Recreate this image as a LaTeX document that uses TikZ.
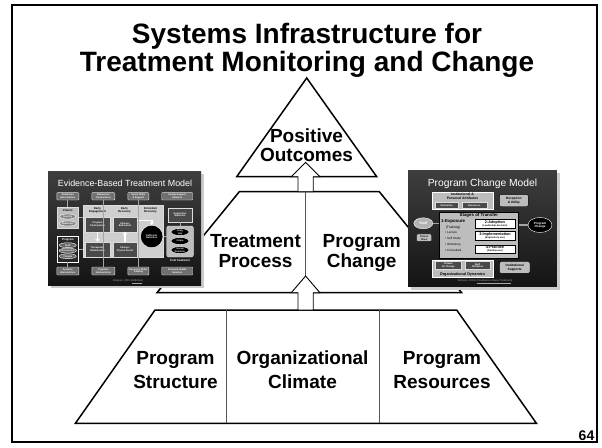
\documentclass[tikz,border=0pt]{standalone}
\usepackage{fontspec}
\setmainfont{Liberation Sans}
\usepackage{xcolor}
\usetikzlibrary{arrows.meta,positioning,calc,shapes.geometric}
\definecolor{divgray}{HTML}{555555}
\definecolor{thumbtop}{HTML}{3E3E3E}
\definecolor{thumbbottom}{HTML}{141414}
\definecolor{tinyfill}{HTML}{707070}
\definecolor{tinyedge}{HTML}{DDDDDD}
\definecolor{darkfill}{HTML}{4A4A4A}
\definecolor{panelfill}{HTML}{BDBDBD}
\definecolor{panellight}{HTML}{CFCFCF}
\tikzset{
  slideframe/.style={draw=black, line width=2pt},
  titletext/.style={font=\bfseries\fontsize{28}{28}\selectfont, align=center, inner sep=0pt},
  layer/.style={draw=black, line width=1.5pt, fill=white, line join=miter},
  divider/.style={draw=divgray, line width=0.9pt},
  liftarrow/.style={draw=black, line width=0.9pt, fill=white, line join=miter},
  layerlabel/.style={font=\bfseries\fontsize{19}{#1}\selectfont, align=center, inner sep=0pt},
  layerlabel/.default=20,
  pagenum/.style={font=\bfseries\fontsize{14}{14}\selectfont, inner sep=0pt},
  thumbshadow/.style={fill=gray!40, draw=none},
  thumb/.style={draw=none, top color=thumbtop, bottom color=thumbbottom, inner sep=0pt},
  thumbtitle/.style={text=white, inner sep=0pt},
  tinybox/.style={draw=tinyedge, fill=tinyfill, text=white, rounded corners=0.8pt, line width=0.4pt,
    font=\bfseries\fontsize{2.4}{2.7}\selectfont, align=center, inner sep=0pt},
  darkbox/.style={tinybox, fill=darkfill, rounded corners=0pt},
  lightbox/.style={tinybox, fill=panelfill, text=black, draw=black},
  panel/.style={draw=tinyedge, fill=panelfill, line width=0.4pt, inner sep=0pt},
  tinyoval/.style={ellipse, draw=white, fill=black, text=white, line width=0.4pt,
    font=\bfseries\fontsize{2.4}{2.7}\selectfont, align=center, inner sep=0pt},
  tinytext/.style={font=\bfseries\fontsize{2.8}{3.1}\selectfont, align=center, inner sep=0pt},
  tinylink/.style={draw=gray!70, line width=0.8pt},
  tinyarrow/.style={draw=white, line width=1.6pt, -{Triangle[length=2.5pt,width=4.5pt]}}
}
\begin{document}
\begin{tikzpicture}[x=1pt,y=-1pt]
\useasboundingbox (0,0) rectangle (602,447);
\draw[slideframe] (12,5) rectangle (597,442);
\node[titletext] (title) at (307,50) {Systems Infrastructure for\\Treatment Monitoring and Change};

% pyramid of three layers
\coordinate (outtip) at (305.6,162.3);
\coordinate (midtop) at (305.6,191.7);
\coordinate (midtip) at (305.6,276);
\coordinate (lowtop) at (305.6,310);
\draw[layer] (306.7,78) -- (376.7,176.7) -- (236.7,176.7) -- cycle;
\draw[layer] (239.3,191.7) -- (379.3,191.7) -- (461.6,292.7) -- (157,292.7) -- cycle;
\draw[divider] (midtop) -- (midtip);
\draw[layer] (155,310) -- (456.7,310) -- (536.4,423.3) -- (75.4,423.3) -- cycle;
\foreach \x in {226.7,379.3}
  \draw[divider] (\x,310) -- (\x,423.3);
\foreach \b/\t/\h in {midtop/outtip/14.4,lowtop/midtip/16.7}
  \draw[liftarrow] ($(\b)+(-7.6,0)$) -- ($(\t)+(-7.6,\h)$) -- ($(\t)+(-14.3,\h)$) -- (\t)
    -- ($(\t)+(14.3,\h)$) -- ($(\t)+(7.6,\h)$) -- ($(\b)+(7.6,0)$) -- cycle;

% evidence-based treatment model inset
\fill[thumbshadow] (51,174) rectangle (204,288);
\node[thumb, minimum width=153, minimum height=114, anchor=north west] (ebtm) at (48,171) {};
\node[thumbtitle, font=\fontsize{8.9}{9}\selectfont] (ebtmtitle) at (125,183.5) {Evidence-Based Treatment Model};
\foreach \x/\w/\t [count=\i] in {67.8/22/Readiness\\Interventions,103.3/23/Behavioral\\Interventions,138.3/21/Social Skills\\\& Support,177.2/31/Family Support\\Services}
  \node[tinybox, minimum width=\w, minimum height=7.4] (top\i) at (\x,196.3) {\t};
\foreach \x/\w/\t [count=\i] in {67.8/22/Systems\\Interventions,103.3/23/Cognitive\\Interventions,138.3/21/Recovery Skills\\Training,177.2/31/Personal Health\\Services}
  \node[tinybox, minimum width=\w, minimum height=8] (bot\i) at (\x,271) {\t};
\node[panel, minimum width=21, minimum height=21.6] (patient) at (67.8,217.5) {};
\node[tinytext] (patientlbl) at (67.8,210.3) {Patient};
\node[tinyoval, fill=gray, minimum width=16, minimum height=5] (pat1) at (67.8,216.5) {Severity};
\node[tinyoval, fill=gray, minimum width=16, minimum height=5] (pat2) at (67.8,223.5) {Readiness};
\node[panel, draw=white, fill=black!85, minimum width=21, minimum height=25.7] (program) at (67.8,248.9) {};
\node[tinytext, text=white] (programlbl) at (67.8,239.8) {Program};
\foreach \y/\t [count=\i] in {245.2/Staff,250.6/Resources,256.2/Climate}
  \node[tinyoval, fill=gray!80!black, minimum width=17, minimum height=5] (prog\i) at (67.8,\y) {\t};
\node[panel, fill=panellight, minimum width=80, minimum height=52.3] (course) at (123.3,231.2) {};
\node[tinytext] (engage) at (97.5,210.5) {Early\\Engagement};
\node[tinytext] (recover) at (124.5,210.5) {Early\\Recovery};
\node[tinytext] (extended) at (150.5,210.5) {Extended\\Recovery};
\node[darkbox, minimum width=25, minimum height=14.4] (particip) at (97.5,224.5) {Program\\Participation};
\node[darkbox, minimum width=23.4, minimum height=14.4] (behav) at (125,224.5) {Change:\\Behavioral};
\node[darkbox, minimum width=25, minimum height=15] (therap) at (97.5,249.2) {Therapeutic\\Relationship};
\node[darkbox, minimum width=23.4, minimum height=15] (psycho) at (125,249.2) {Change:\\Psycho-Social};
\node[tinyoval, circle, minimum size=22.5] (retain) at (151.7,236.5) {Sufficient\\Retention};
\draw[tinyarrow] (particip) -- (therap);
\draw[tinyarrow] (psycho) -- (behav);
\draw[tinyarrow] ($(behav.east)+(0,-4)$) -| (retain.north);
\node[darkbox, minimum width=23.4, minimum height=14] (networks) at (180,214.7) {Supportive\\Networks};
\node[panel, rounded corners=2pt, minimum width=26.6, minimum height=31] (post) at (180,241.5) {};
\foreach \y/\t [count=\i] in {232/Drug\\Use,241/Crime,250/Social\\Function}
  \node[tinyoval, minimum width=18, minimum height=7] (out\i) at (180,\y) {\t};
\node[tinytext, text=white] (postlbl) at (180,261) {Post treatment};
\node[tinytext, text=gray!70, font=\fontsize{2.6}{3}\selectfont] (ebtmsrc) at (128,281.5) {Simpson, 2001 (\underline{Addiction})};
\foreach \a in {top2,top3,bot2,bot3}
  \draw[tinylink] (\a) -- (\a |- course.north);
\draw[tinylink] (top1) -- (patient);
\draw[tinylink] (bot1) -- (program);
\draw[tinylink] (course.west |- patient.east) -- (patient.east);
\draw[tinylink] (course.west |- program.east) -- (program.east);
\draw[tinylink] (retain.east -| course.east) -- (retain.east -| post.west);
\draw[tinylink] (networks) -- (post);

% program change model inset
\fill[thumbshadow] (411,173) rectangle (559.5,289.5);
\node[thumb, minimum width=148.7, minimum height=116.7, anchor=north west] (pcm) at (408,170) {};
\node[thumbtitle, font=\fontsize{10.3}{11}\selectfont] (pcmtitle) at (482.5,184) {Program Change Model};
\node[panel, draw=white, minimum width=61.6, minimum height=17.6] (attrib) at (462.5,200.5) {};
\node[tinytext, font=\bfseries\fontsize{3.4}{3.6}\selectfont] (attriblbl) at (462.5,196) {Institutional \&\\Personal Attributes};
\node[darkbox, minimum width=23.3, minimum height=6] (motiv) at (446.7,205.3) {Motivation};
\node[darkbox, minimum width=25, minimum height=6] (resrc) at (474.2,205.3) {Resources};
\node[lightbox, rounded corners=2pt, minimum width=29, minimum height=12.4, font=\bfseries\fontsize{3.2}{3.5}\selectfont] (recept) at (513.8,200.5) {Reception\\\& Utility};
\node[panel, draw=black, minimum width=79, minimum height=46.6] (stages) at (478.8,235) {};
\node[tinytext, font=\bfseries\fontsize{4.4}{5}\selectfont] (stageslbl) at (478.8,215.5) {Stages of Transfer};
\node[tinytext, font=\bfseries\fontsize{4.4}{5}\selectfont, anchor=west] (exposelbl) at (441,221.5) {1-Exposure};
\node[tinytext, font=\fontsize{3.4}{4}\selectfont] (training) at (453,227.3) {(Training)};
\foreach \y/\t [count=\i] in {232.7/Lecture,238.5/Self Study,244.5/Workshop,250.5/Consultant}
  \node[tinytext, font=\fontsize{3}{3.4}\selectfont, anchor=west] (bullet\i) at (445,\y) {\textbullet\ \t};
\foreach \y/\h/\t/\s [count=\i] in {223.8/9/2-Adoption/Leadership decision,235.8/8.3/3-Implementation/Exploratory use,249.2/8.3/4-Practice/Routine use}
  \node[lightbox, fill=white, rounded corners=0pt, minimum width=40, minimum height=\h] (stage\i) at (495,\y) {{\fontsize{3.8}{4}\selectfont\t}\\(\s)};
\node[tinyoval, fill=gray!60, minimum width=19, minimum height=11, font=\bfseries\fontsize{3.6}{4}\selectfont] (staff) at (423.3,223.3) {Staff};
\node[lightbox, rounded corners=1pt, minimum width=15, minimum height=7.7] (timeplace) at (424.2,237.8) {Time \&\\Place};
\node[tinyoval, minimum width=24, minimum height=15, font=\bfseries\fontsize{3}{3.3}\selectfont] (pchange) at (540,225) {Program\\Change};
\draw[tinylink, line width=1.5pt] (staff) -- (staff -| stages.west);
\draw[tinylink, line width=1.5pt] (stages.east |- pchange) -- (pchange);
\node[panel, draw=white, minimum width=61.6, minimum height=17.3] (orgdyn) at (462.5,268.7) {};
\node[darkbox, minimum width=26.7, minimum height=8.3] (climbox) at (448.3,265.5) {Climate\\for Change};
\node[darkbox, minimum width=25, minimum height=8.3] (staffattr) at (477.5,265.5) {Staff\\Attributes};
\node[tinytext, font=\bfseries\fontsize{3.8}{4}\selectfont] (orgdynlbl) at (462.5,274.3) {Organizational Dynamics};
\node[lightbox, rounded corners=2pt, minimum width=30.7, minimum height=11.6, font=\bfseries\fontsize{3.2}{3.5}\selectfont] (supports) at (514.7,267.5) {Institutional\\Supports};
\node[tinytext, text=gray!70, font=\fontsize{2.6}{3}\selectfont] (pcmsrc) at (485,281.7) {Simpson, 2002 (\underline{J Substance Abuse Treatment})};

% layer labels
\node[layerlabel=19] (outcomes) at (306.5,145.5) {Positive\\Outcomes};
\node[layerlabel] (process) at (255.5,251.5) {Treatment\\Process};
\node[layerlabel] (change) at (361.7,253.3) {Program\\Change};
\node[layerlabel=24] (structure) at (175.5,370.2) {Program\\Structure};
\node[layerlabel=24] (climate) at (302.5,370.2) {Organizational\\Climate};
\node[layerlabel=24] (resources) at (442,370.2) {Program\\Resources};
\node[pagenum, anchor=south east] (page) at (594.5,440.5) {64};
\end{tikzpicture}
\end{document}
